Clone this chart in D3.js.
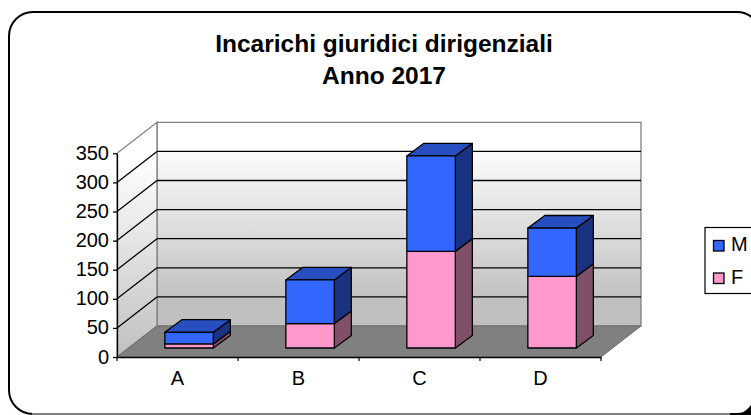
<!DOCTYPE html>
<html><head><meta charset="utf-8">
<style>html,body{margin:0;padding:0;background:#fff;overflow:hidden}svg{display:block}text{font-family:"Liberation Sans",Arial,sans-serif;fill:#000}</style>
<script src="https://cdn.jsdelivr.net/npm/d3@7"></script></head><body>
<script>
const categories = ["A","B","C","D"];
const valuesF = [7, 42, 166, 123];
const valuesM = [20, 75, 164, 83];
const yTicks = [0,50,100,150,200,250,300,350];
const titleLines = ["Incarichi giuridici dirigenziali","Anno 2017"];
const seriesNames = ["M","F"];

const W=751,H=415;
const pLeft=117,pRight=601,pBottom=357,pTop=153.3;
const depthX=40,depthY=31;         // wall offset
const barDX=11.6,barDY=9;          // bar front-face offset
const barDepthX=17,barDepthY=12.6; // bar depth
const colF="#ff99cc",colFSide="#80506a",colM="#3366ff",colMTop="#274fc0",colMSide="#1a3380";
const fontFam='"Liberation Sans",Arial,sans-serif';

const svg=d3.select("body").append("svg").attr("width",W).attr("height",H);
const defs=svg.append("defs");
const grad=defs.append("linearGradient").attr("id","wall").attr("x1",0).attr("x2",0).attr("y1",0).attr("y2",1);
grad.append("stop").attr("offset",0).attr("stop-color","#ffffff");
grad.append("stop").attr("offset",0.1).attr("stop-color","#ffffff");
grad.append("stop").attr("offset",0.88).attr("stop-color","#c0c0c0");
grad.append("stop").attr("offset",1).attr("stop-color","#c0c0c0");
const sideGrad=defs.append("linearGradient").attr("id","side").attr("gradientUnits","userSpaceOnUse")
  .attr("x1",0).attr("x2",0).attr("y1",pTop-depthY).attr("y2",pBottom);
sideGrad.append("stop").attr("offset",0).attr("stop-color","#ffffff");
sideGrad.append("stop").attr("offset",0.15).attr("stop-color","#ffffff");
sideGrad.append("stop").attr("offset",1).attr("stop-color","#c0c0c0");

const x=d3.scaleBand().domain(categories).range([pLeft,pRight]);
const y=d3.scaleLinear().domain([0,350]).range([pBottom,pTop]);
const poly=p=>p.map(d=>d.join(",")).join(" ");

// frame
svg.append("rect").attr("x",9).attr("y",12).attr("width",752).attr("height",402).attr("rx",24)
  .attr("fill","#fff").attr("stroke","#000").attr("stroke-width",2);
svg.append("line").attr("x1",32).attr("x2",730).attr("y1",414).attr("y2",414).attr("stroke","#808080").attr("stroke-width",2);
svg.append("path").attr("d","M751 405 L751 415 L737 415 Q746 412 751 405Z").attr("fill","#000");

// title
svg.selectAll("text.title").data(titleLines).join("text").attr("class","title")
  .attr("x",384).attr("y",(d,i)=>52+i*32).attr("text-anchor","middle")
  .attr("font-size",24.5).attr("font-weight","bold").text(d=>d);

// walls and floor
svg.append("polygon").attr("points",poly([[pLeft+depthX,pBottom-depthY],[pRight+depthX,pBottom-depthY],[pRight+depthX,pTop-depthY],[pLeft+depthX,pTop-depthY]]))
  .attr("fill","url(#wall)").attr("stroke","#808080").attr("stroke-width",1.3);
svg.append("polygon").attr("points",poly([[pLeft,pBottom],[pLeft+depthX,pBottom-depthY],[pLeft+depthX,pTop-depthY],[pLeft,pTop]]))
  .attr("fill","url(#side)").attr("stroke","#808080").attr("stroke-width",1.3);
svg.append("polygon").attr("points",poly([[pLeft,pBottom],[pRight,pBottom],[pRight+depthX,pBottom-depthY],[pLeft+depthX,pBottom-depthY]]))
  .attr("fill","#808080").attr("stroke","#6e6e6e").attr("stroke-width",1);

// gridlines
yTicks.slice(1,-1).forEach(t=>{
  const g=svg.append("g").attr("stroke","#000").attr("stroke-width",1.3).attr("fill","none");
  g.append("line").attr("x1",pLeft).attr("y1",y(t)).attr("x2",pLeft+depthX).attr("y2",y(t)-depthY);
  g.append("line").attr("x1",pLeft+depthX).attr("y1",y(t)-depthY).attr("x2",pRight+depthX).attr("y2",y(t)-depthY);
});

// axes
const yAxis=d3.axisLeft(y).tickValues(yTicks).tickSize(4).tickSizeOuter(0).tickPadding(4);
const gy=svg.append("g").attr("transform",`translate(${pLeft},0)`).call(yAxis);
gy.selectAll("text").attr("font-size",20).style("font-family",fontFam).attr("dy","0.3em");
gy.selectAll("line,path").attr("stroke","#000").attr("stroke-width",1.3);
const xAxis=d3.axisBottom(x).tickSize(0).tickPadding(13.5);
const gx=svg.append("g").attr("transform",`translate(0,${pBottom})`).call(xAxis);
gx.selectAll("text").attr("font-size",20).style("font-family",fontFam);
gx.selectAll("path").attr("stroke","#000").attr("stroke-width",1.3);
svg.selectAll("line.xtick").data(d3.range(categories.length+1)).join("line").attr("class","xtick")
  .attr("x1",i=>pLeft+i*x.step()).attr("x2",i=>pLeft+i*x.step()).attr("y1",pBottom).attr("y2",pBottom+4).attr("stroke","#000").attr("stroke-width",1.2);

// bars
const barW=48.5;
const bars=svg.append("g").attr("stroke","#000").attr("stroke-width",1.3).attr("stroke-linejoin","round");
categories.forEach((c,i)=>{
  const x0=x(c)+x.bandwidth()/2+barDX-barW/2, x1=x0+barW;
  const f=valuesF[i], m=valuesM[i];
  const yb=y(0)-barDY, ym=y(f)-barDY, yt=y(f+m)-barDY;
  const dX=barDepthX,dY=barDepthY;
  bars.append("polygon").attr("points",poly([[x1,yb],[x1+dX,yb-dY],[x1+dX,ym-dY],[x1,ym]])).attr("fill",colFSide);
  bars.append("polygon").attr("points",poly([[x1,ym],[x1+dX,ym-dY],[x1+dX,yt-dY],[x1,yt]])).attr("fill",colMSide);
  bars.append("polygon").attr("points",poly([[x0,yt],[x1,yt],[x1+dX,yt-dY],[x0+dX,yt-dY]])).attr("fill",colMTop);
  bars.append("rect").attr("x",x0).attr("y",ym).attr("width",barW).attr("height",yb-ym).attr("fill",colF);
  bars.append("rect").attr("x",x0).attr("y",yt).attr("width",barW).attr("height",ym-yt).attr("fill",colM);
});

// legend
svg.append("rect").attr("x",705).attr("y",227.5).attr("width",60).attr("height",66).attr("fill","#fff").attr("stroke","#000").attr("stroke-width",1.2);
const legColors=[colM,colF];
seriesNames.forEach((n,i)=>{
  const ly=240.5+i*32.5;
  svg.append("rect").attr("x",713.5).attr("y",ly).attr("width",10.5).attr("height",10.5).attr("fill",legColors[i]).attr("stroke","#000").attr("stroke-width",1.3);
  svg.append("text").attr("x",731).attr("y",ly+10.5).attr("font-size",20).text(n);
});
</script></body></html>
